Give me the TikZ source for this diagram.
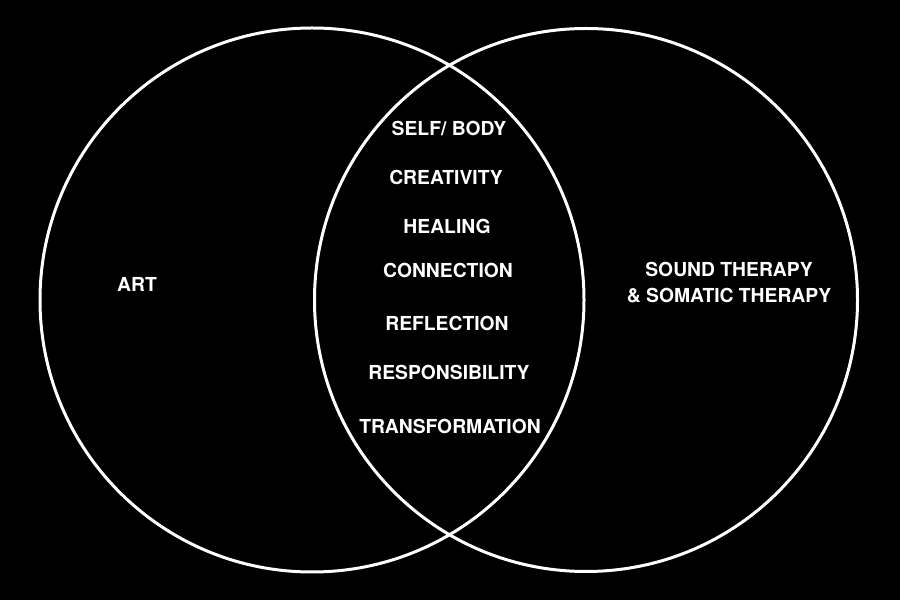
\documentclass[tikz,border=0pt]{standalone}
\usepackage{fontspec}
\setmainfont{TeX Gyre Heros}
\begin{document}
\begin{tikzpicture}[x=1pt,y=1pt,
  ring/.style={draw=white,line width=3pt},
  lbl/.style={text=white,font=\fontsize{19.3}{26}\selectfont\bfseries,inner sep=0pt,align=center}]
\fill[black] (0,0) rectangle (900,600);
\useasboundingbox (0,0) rectangle (900,600);
\node[ring,circle,minimum size=544pt,inner sep=0pt] (left) at (312,300) {};
\node[ring,circle,minimum size=543pt,inner sep=0pt] (right) at (586,300) {};
\node[lbl] (art) at (137,316) {ART};
\node[lbl] (sound) at (729,317) {SOUND THERAPY\\\& SOMATIC THERAPY};
\node[lbl] (self) at (449,472) {SELF/ BODY};
\node[lbl] (creat) at (446,423) {CREATIVITY};
\node[lbl] (heal) at (447,374) {HEALING};
\node[lbl] (conn) at (448,330) {CONNECTION};
\node[lbl] (refl) at (447,277) {REFLECTION};
\node[lbl] (resp) at (449,228) {RESPONSIBILITY};
\node[lbl] (trans) at (450,174) {TRANSFORMATION};
\end{tikzpicture}
\end{document}
